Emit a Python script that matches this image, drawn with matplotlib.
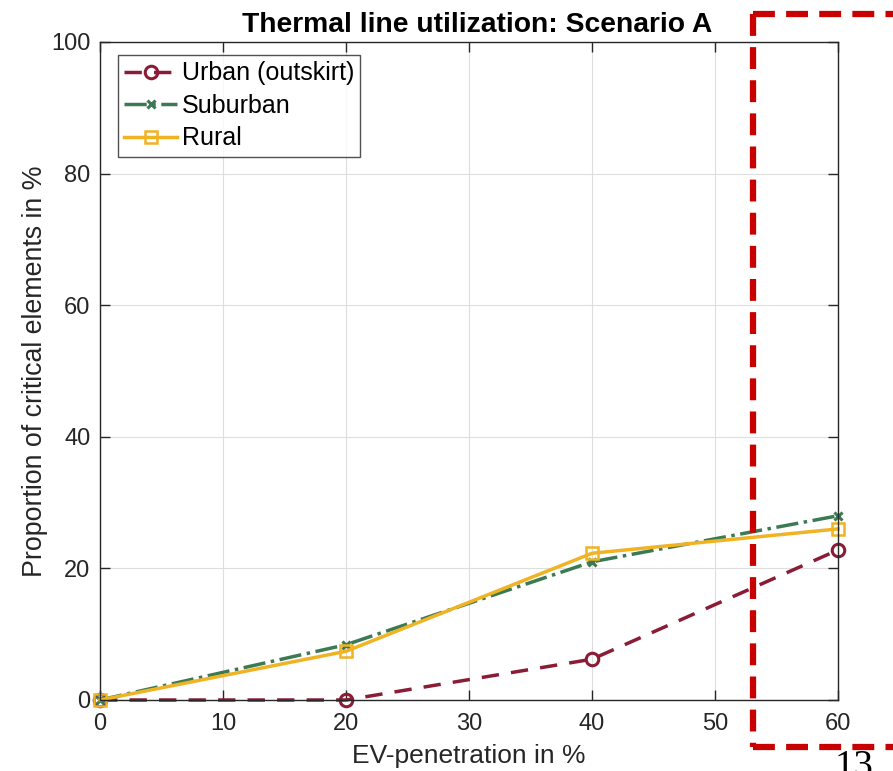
import matplotlib
matplotlib.use("Agg")
import matplotlib.pyplot as plt
from matplotlib.lines import Line2D

plt.rcParams['font.family'] = ['Liberation Sans', 'DejaVu Sans']

penetration = [0, 20, 40, 60]
urban = [0, 0, 6.2, 22.8]
suburban = [0, 8.4, 21.0, 28.0]
rural = [0, 7.4, 22.3, 26.0]
xticks = [0, 10, 20, 30, 40, 50, 60]
yticks = [0, 20, 40, 60, 80, 100]

W, H = 893, 771
fig = plt.figure(figsize=(W/100, H/100), dpi=100)
ax = fig.add_axes([100/W, 1-700/H, 738/W, 658/H])

c_urban = '#8a1c36'
c_sub = '#3b7a52'
c_rural = '#f0b323'

ax.plot(penetration, urban, linestyle=(0, (5, 3.5)), color=c_urban, lw=2.5,
        marker='o', ms=9, mfc='none', mew=2.2, label='Urban (outskirt)', clip_on=False)
ax.plot(penetration, suburban, linestyle='-.', color=c_sub, lw=2.5,
        marker='x', ms=6, mew=2.2, label='Suburban', clip_on=False)
ax.plot(penetration, rural, linestyle='-', color=c_rural, lw=2.5,
        marker='s', ms=8, mfc='none', mew=1.8, label='Rural', clip_on=False)

ax.set_xlim(0, 60)
ax.set_ylim(0, 100)
ax.set_xticks(xticks)
ax.set_yticks(yticks)
ax.grid(True, color='#dedede', lw=0.8)
ax.set_axisbelow(True)
ax.tick_params(direction='in', top=True, right=True, labelsize=17,
               colors='#262626', length=7, width=1)
ax.tick_params(axis='x', pad=9)
ax.tick_params(axis='y', pad=7)
for s in ax.spines.values():
    s.set_color('#262626')
    s.set_linewidth(1)
ax.set_xlabel('EV-penetration in %', fontsize=19, color='#262626', labelpad=7)
ax.set_ylabel('Proportion of critical elements in %', fontsize=19.3, color='#262626', labelpad=2)
ax.set_title('Thermal line utilization: Scenario A', fontsize=20.3, fontweight='bold', pad=7,
             x=(477-100)/738)

leg = ax.legend(loc='upper left', bbox_to_anchor=(18/738, 1-13/658), borderaxespad=0,
                fontsize=18, frameon=True, fancybox=False,
                edgecolor='#262626', handlelength=2.1, handletextpad=0.2,
                borderpad=0.25, labelspacing=0.34)
leg.get_frame().set_linewidth(1)

red = '#c80000'
def fl(x0, y0, x1, y1):
    fig.add_artist(Line2D([x0/W, x1/W], [1-y0/H, 1-y1/H], transform=fig.transFigure,
                          color=red, lw=4.5, linestyle=(0, (3.5, 1.8))))
fl(753, 14, 900, 14)
fl(753, 14, 753, 747)
fl(753, 747, 900, 747)

fig.text(835/W, 1-749/H, '13', fontsize=28, family='Liberation Serif', va='top', ha='left')

fig.savefig('out.png', dpi=100)
